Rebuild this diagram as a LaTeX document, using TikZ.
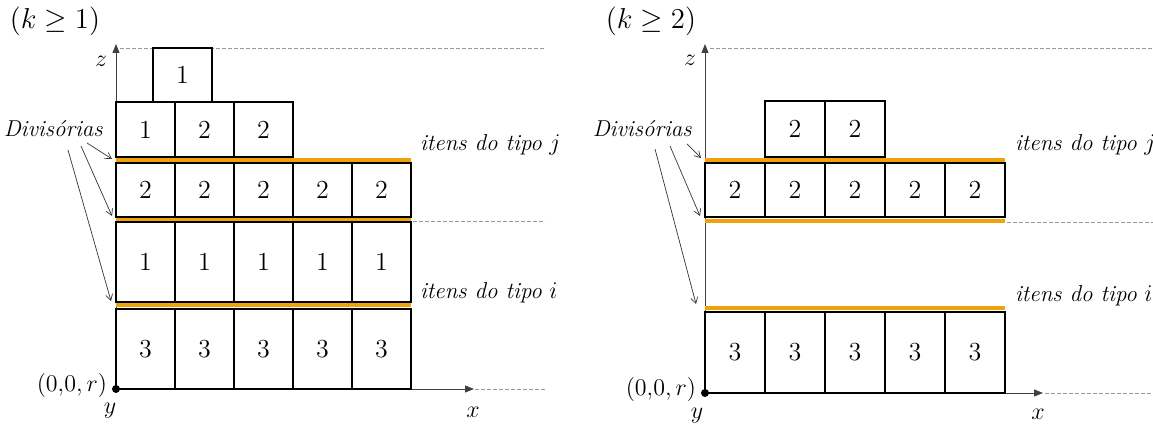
\documentclass[tikz,border=0pt]{standalone}
\usepackage{fontspec}
\usepackage{amsmath,amssymb}
\usetikzlibrary{arrows.meta,positioning}
\definecolor{divorange}{RGB}{240,162,12}

\tikzset{
  item/.style={draw, line width=1pt, minimum width=29.5pt, minimum height=#1,
    inner sep=0pt, font=\fontsize{13}{14}\selectfont},
  item/.default=27pt,
  divline/.style={divorange, line width=2pt},
  guide/.style={gray!80, line width=0.4pt, dash pattern=on 1.8pt off 1.2pt},
  axis/.style={-{Triangle[length=4.5pt,width=3.5pt]}, line width=0.45pt, black!75},
  pointer/.style={-{Straight Barb[length=3pt,width=3.5pt]}, line width=0.35pt, black!80},
  lbl/.style={font=\fontsize{11.5}{13}\selectfont},
  title/.style={font=\fontsize{14}{16}\selectfont},
}

\begin{document}
\begin{tikzpicture}[x=0.5pt,y=-0.5pt]
\useasboundingbox (0,0) rectangle (1153,427);

% ---------- left panel (k >= 1) ----------
\node[title] (titleL) at (55,21) {$(k \geq 1)$};

% guides and axes
\draw[guide] (120,48) -- (545,48);
\draw[guide] (413,221) -- (545,221);
\draw[guide] (475,389) -- (545,389);
\coordinate (OL) at (116,389);
\coordinate (zL) at (116,44);
\coordinate (xL) at (474,389);
\draw[axis] (OL) -- (zL);
\draw[axis] (OL) -- (xL);

% dividers
\draw[divline] (116,160) -- (411,160);
\draw[divline] (116,219.5) -- (411,219.5);
\draw[divline] (116,305.5) -- (411,305.5);

% items
\node[item] (topL) at (182.5,75) {1};
\foreach \n/\v in {1/1,2/2,3/2}
  \node[item=27.5pt] (aL\n) at ({116+59*\n-29.5},129.5) {\v};
\foreach \n in {1,...,5}{
  \node[item] (bL\n) at ({116+59*\n-29.5},190) {2};
  \node[item=40pt] (cL\n) at ({116+59*\n-29.5},262) {1};
  \node[item=40pt] (dL\n) at ({116+59*\n-29.5},349) {3};
}
\fill (OL) circle (2pt);

% labels
\node[lbl] (zlabL) at (101,61) {$z$};
\node[lbl] (xlabL) at (473,412) {$x$};
\node[lbl] (ylabL) at (110,411) {$y$};
\node[lbl, anchor=east] (origL) at (114,386) {$(0{,}0,r)$};
\node[lbl, anchor=west] (jL) at (413,145) {\textit{itens do tipo} $j$};
\node[lbl, anchor=west] (iL) at (413,293) {\textit{itens do tipo} $i$};
\node[lbl, anchor=east] (divL) at (110,129) {\textit{Divisórias}};

% pointers to the dividers
\coordinate (pL1) at (87,143);
\coordinate (pL2) at (81,146);
\coordinate (pL3) at (68,150);
\coordinate (eL1) at (112,159);
\coordinate (eL2) at (112,216);
\coordinate (eL3) at (111,301);
\draw[pointer] (pL1) -- (eL1);
\draw[pointer] (pL2) -- (eL2);
\draw[pointer] (pL3) -- (eL3);

% ---------- right panel (k >= 2) ----------
\node[title] (titleR) at (651,21) {$(k \geq 2)$};

% guides and axes
\draw[guide] (710,48) -- (1153,48);
\draw[guide] (1007,222) -- (1153,222);
\draw[guide] (1045,393) -- (1153,393);
\coordinate (OR) at (705,393);
\coordinate (zR) at (705,44);
\coordinate (xR) at (1043,393);
\draw[axis] (OR) -- (zR);
\draw[axis] (OR) -- (xR);

% dividers
\draw[divline] (705,160.5) -- (1005,160.5);
\draw[divline] (705,221) -- (1005,221);
\draw[divline] (705,308.5) -- (1005,308.5);

% items
\foreach \n in {1,2}
  \node[item=28pt, minimum width=30pt] (aR\n) at ({765+60*\n-30},129) {2};
\foreach \n in {1,...,5}{
  \node[item, minimum width=30pt] (bR\n) at ({705+60*\n-30},190) {2};
  \node[item=40.5pt, minimum width=30pt] (dR\n) at ({705+60*\n-30},352.5) {3};
}
\fill (OR) circle (2pt);

% labels
\node[lbl] (zlabR) at (690,60) {$z$};
\node[lbl] (xlabR) at (1038,414) {$x$};
\node[lbl] (ylabR) at (697,416) {$y$};
\node[lbl, anchor=east] (origR) at (703,390) {$(0{,}0,r)$};
\node[lbl, anchor=west] (jR) at (1008,145) {\textit{itens do tipo} $j$};
\node[lbl, anchor=west] (iR) at (1008,296) {\textit{itens do tipo} $i$};
\node[lbl, anchor=east] (divR) at (699,129) {\textit{Divisórias}};

% pointers to the dividers
\coordinate (pR1) at (687,144);
\coordinate (pR2) at (670,146);
\coordinate (pR3) at (655,149);
\coordinate (eR1) at (701,158);
\coordinate (eR2) at (700,216);
\coordinate (eR3) at (696,304);
\draw[pointer] (pR1) -- (eR1);
\draw[pointer] (pR2) -- (eR2);
\draw[pointer] (pR3) -- (eR3);
\end{tikzpicture}
\end{document}
